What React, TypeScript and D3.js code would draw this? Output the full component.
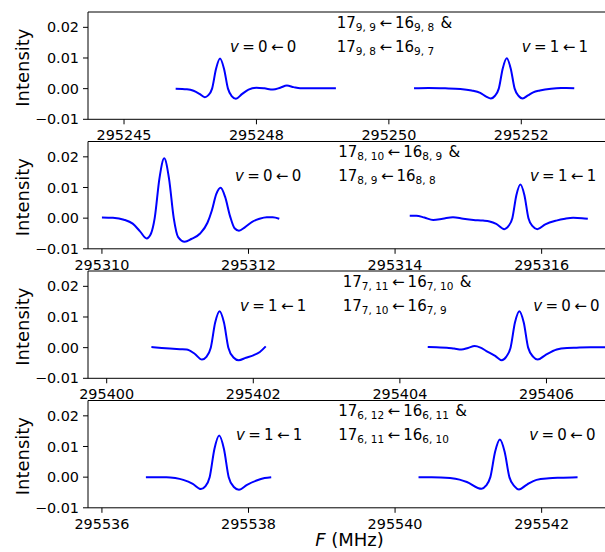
import React from "react";
import * as d3 from "d3";

type Pt = [number, number];

// ---------- data ----------
const yTicks = [-0.01, 0.0, 0.01, 0.02];
const yTickLabels = ["\u22120.01", "0.00", "0.01", "0.02"];

const p1Domain: [number, number] = [295245.456, 295253.37];
const p1Ticks = [295246, 295248, 295250, 295252];
const p1TickLabels = ["295245", "295248", "295250", "295252"];

const p2Domain: [number, number] = [295309.81, 295316.96];
const p2Ticks = [295310, 295312, 295314, 295316];
const p2TickLabels = ["295310", "295312", "295314", "295316"];

const p3Domain: [number, number] = [295399.745, 295406.894];
const p3Ticks = [295400, 295402, 295404, 295406];
const p3TickLabels = ["295400", "295402", "295404", "295406"];

const p4Domain: [number, number] = [295535.81, 295542.96];
const p4Ticks = [295536, 295538, 295540, 295542];
const p4TickLabels = ["295536", "295538", "295540", "295542"];

const p1SegA: Pt[] = [
  [295246.78, 0], [295246.95, -0.0002], [295247.05, -0.0007], [295247.14, -0.0017],
  [295247.22, -0.0028], [295247.27, -0.0022], [295247.33, 0], [295247.39, 0.0065],
  [295247.45, 0.0098], [295247.51, 0.0065], [295247.57, 0], [295247.63, -0.0025],
  [295247.69, -0.0033], [295247.78, -0.0018], [295247.88, -0.0003], [295248.0, 0.0003],
  [295248.12, 0.0001], [295248.25, -0.0003], [295248.36, 0.0003], [295248.46, 0.001],
  [295248.56, 0.0005], [295248.66, 0.0001], [295248.9, 0.0001], [295249.2, 0.0001],
];
const p1SegB: Pt[] = [
  [295250.38, 0.0001], [295250.6, 0.0002], [295250.85, 0.0001], [295251.08, -0.0001],
  [295251.25, -0.0006], [295251.38, -0.0014], [295251.47, -0.0026], [295251.54, -0.0032],
  [295251.6, -0.0024], [295251.66, 0], [295251.72, 0.0066], [295251.78, 0.0099],
  [295251.84, 0.0066], [295251.9, 0], [295251.96, -0.0024], [295252.02, -0.0032],
  [295252.1, -0.0022], [295252.18, -0.0012], [295252.28, -0.0006], [295252.45, 0],
  [295252.6, 0.0002], [295252.68, 0.0002], [295252.8, 0.0001],
];
const p2SegA: Pt[] = [
  [295310.0, 0.0002], [295310.15, 0.0001], [295310.3, -0.0005], [295310.42, -0.0018],
  [295310.52, -0.0043], [295310.61, -0.0066], [295310.67, -0.005], [295310.72, 0],
  [295310.785, 0.013], [295310.85, 0.0195], [295310.915, 0.013], [295310.98, 0],
  [295311.04, -0.0062], [295311.13, -0.0077], [295311.22, -0.0068], [295311.34, -0.005],
  [295311.44, -0.0015], [295311.5, 0.0025], [295311.56, 0.0078], [295311.62, 0.0099],
  [295311.68, 0.007], [295311.75, 0.0005], [295311.81, -0.0033], [295311.87, -0.0041],
  [295311.95, -0.003], [295312.05, -0.0012], [295312.15, -0.0002], [295312.25, 0.0003],
  [295312.33, 0.0003], [295312.42, -0.0002],
];
const p2SegB: Pt[] = [
  [295314.2, 0.0008], [295314.29, 0.0008], [295314.4, 0.0002], [295314.52, -0.0006],
  [295314.65, -0.0002], [295314.79, 0.0003], [295314.93, -0.0002], [295315.07, -0.0006],
  [295315.2, -0.0008], [295315.29, -0.0011], [295315.38, -0.0019], [295315.49, -0.0036],
  [295315.55, -0.0025], [295315.6, 0], [295315.655, 0.0075], [295315.71, 0.011],
  [295315.765, 0.0075], [295315.82, 0], [295315.88, -0.0027], [295315.94, -0.0036],
  [295316.05, -0.002], [295316.2, -0.0008], [295316.32, -0.0002], [295316.43, 0.0001],
  [295316.55, 0], [295316.63, -0.0002],
];
const p3SegA: Pt[] = [
  [295400.61, 0.0002], [295400.75, -0.0001], [295400.86, -0.0003], [295401.0, -0.0005],
  [295401.09, -0.0006], [295401.2, -0.002], [295401.3, -0.0039], [295401.36, -0.003],
  [295401.42, 0], [295401.48, 0.0082], [295401.54, 0.0119], [295401.6, 0.0082],
  [295401.66, 0], [295401.73, -0.0032], [295401.8, -0.0041], [295401.9, -0.0033],
  [295402.0, -0.0025], [295402.09, -0.0014], [295402.17, 0.0004],
];
const p3SegB: Pt[] = [
  [295404.38, 0.0002], [295404.5, 0.0001], [295404.64, 0], [295404.74, -0.0003],
  [295404.84, -0.0006], [295404.93, -0.0001], [295405.02, 0.0005], [295405.1, 0],
  [295405.18, -0.0011], [295405.3, -0.0027], [295405.39, -0.0041], [295405.45, -0.003],
  [295405.51, 0], [295405.57, 0.0082], [295405.63, 0.0119], [295405.69, 0.0082],
  [295405.75, 0], [295405.82, -0.003], [295405.88, -0.0039], [295405.98, -0.0025],
  [295406.14, -0.0006], [295406.28, -0.0001], [295406.41, 0], [295406.6, 0.0001],
  [295406.85, 0.0001],
];
const p4SegA: Pt[] = [
  [295536.6, 0], [295536.75, 0], [295536.88, 0], [295537.0, -0.0003],
  [295537.11, -0.0009], [295537.24, -0.0022], [295537.35, -0.0039], [295537.41, -0.003],
  [295537.47, 0], [295537.535, 0.0092], [295537.6, 0.0136], [295537.665, 0.0092],
  [295537.73, 0], [295537.8, -0.0032], [295537.87, -0.0041], [295537.98, -0.0025],
  [295538.11, -0.0011], [295538.22, -0.0003], [295538.31, 0],
];
const p4SegB: Pt[] = [
  [295540.32, 0], [295540.5, 0], [295540.75, -0.0003], [295540.88, -0.0008],
  [295540.98, -0.0016], [295541.18, -0.0038], [295541.24, -0.0028], [295541.3, 0],
  [295541.365, 0.0083], [295541.43, 0.0123], [295541.495, 0.0083], [295541.56, 0],
  [295541.63, -0.003], [295541.69, -0.004], [295541.8, -0.0024], [295541.93, -0.0009],
  [295542.1, -0.0004], [295542.25, -0.0002], [295542.49, 0],
];

// transition labels: [J upper, Ka/Kc upper, J lower, Ka/Kc lower]
const p1Trans = [["17", "9, 9", "16", "9, 8"], ["17", "9, 8", "16", "9, 7"]];
const p2Trans = [["17", "8, 10", "16", "8, 9"], ["17", "8, 9", "16", "8, 8"]];
const p3Trans = [["17", "7, 11", "16", "7, 10"], ["17", "7, 10", "16", "7, 9"]];
const p4Trans = [["17", "6, 12", "16", "6, 11"], ["17", "6, 11", "16", "6, 10"]];

// vibrational labels: [x position (MHz), upper v, lower v]
const p1Vib: [number, string, string][] = [[295247.601, "0", "0"], [295252.007, "1", "1"]];
const p2Vib: [number, string, string][] = [[295311.815, "0", "0"], [295315.84, "1", "1"]];
const p3Vib: [number, string, string][] = [[295401.819, "1", "1"], [295405.82, "0", "0"]];
const p4Vib: [number, string, string][] = [[295537.829, "1", "1"], [295541.83, "0", "0"]];
const transX = [295249.213, 295313.225, 295403.22, 295539.225];
const labelY1 = 0.0199;
const labelY2 = 0.0121;

// ---------- layout ----------
const W = 605;
const H = 552;
const AX_L = 88;
const AX_R = 612;
const AX_H = 107.3;
const tops = [12, 141.5, 271, 400.5];
const FONT = "DejaVu Sans";
const TICK_FS = 14.4;
const ANN_FS = 15;
const SUB_FS = 10.5;

const panels = [
  { domain: p1Domain, ticks: p1Ticks, labels: p1TickLabels, segs: [p1SegA, p1SegB], trans: p1Trans, vib: p1Vib, tx: transX[0] },
  { domain: p2Domain, ticks: p2Ticks, labels: p2TickLabels, segs: [p2SegA, p2SegB], trans: p2Trans, vib: p2Vib, tx: transX[1] },
  { domain: p3Domain, ticks: p3Ticks, labels: p3TickLabels, segs: [p3SegA, p3SegB], trans: p3Trans, vib: p3Vib, tx: transX[2] },
  { domain: p4Domain, ticks: p4Ticks, labels: p4TickLabels, segs: [p4SegA, p4SegB], trans: p4Trans, vib: p4Vib, tx: transX[3] },
];

function TransLabel({ x, y, t, amp }: { x: number; y: number; t: string[]; amp: boolean }) {
  return (
    <text x={x} y={y} fontFamily={FONT} fontSize={ANN_FS} fill="#000">
      <tspan>{t[0]}</tspan>
      <tspan fontSize={SUB_FS} dy={3.2}>{t[1]}</tspan>
      <tspan dy={-3.2} dx={3.5}>{"\u2190"}</tspan>
      <tspan dx={3}>{t[2]}</tspan>
      <tspan fontSize={SUB_FS} dy={3.2}>{t[3]}</tspan>
      {amp ? <tspan dy={-3.2} dx={1.5}>{" &"}</tspan> : null}
    </text>
  );
}

function VibLabel({ x, y, up, lo }: { x: number; y: number; up: string; lo: string }) {
  return (
    <text x={x} y={y} fontFamily={FONT} fontSize={ANN_FS} fill="#000">
      <tspan fontStyle="italic">v</tspan>
      <tspan dx={3.3}>=</tspan>
      <tspan dx={3.3}>{up}</tspan>
      <tspan dx={3.3}>{"\u2190"}</tspan>
      <tspan dx={3.3}>{lo}</tspan>
    </text>
  );
}

function Panel({ idx }: { idx: number }) {
  const p = panels[idx];
  const top = tops[idx];
  const bottom = top + AX_H;
  const x = d3.scaleLinear().domain(p.domain).range([AX_L, AX_R]);
  const y = d3.scaleLinear().domain([-0.01, 0.025]).range([bottom, top]);
  const line = d3
    .line<Pt>()
    .x((d) => x(d[0]))
    .y((d) => y(d[1]))
    .curve(d3.curveMonotoneX);
  const clipId = `clip${idx}`;
  return (
    <g>
      <defs>
        <clipPath id={clipId}>
          <rect x={AX_L} y={top} width={AX_R - AX_L} height={AX_H} />
        </clipPath>
      </defs>
      <g clipPath={`url(#${clipId})`}>
        {p.segs.map((s, i) => (
          <path key={i} d={line(s) || ""} fill="none" stroke="#0000ff" strokeWidth={2} strokeLinejoin="round" />
        ))}
      </g>
      {/* spines */}
      <line x1={AX_L} x2={AX_R} y1={top} y2={top} stroke="#000" strokeWidth={1} />
      <line x1={AX_L} x2={AX_R} y1={bottom} y2={bottom} stroke="#000" strokeWidth={1} />
      <line x1={AX_L} x2={AX_L} y1={top} y2={bottom} stroke="#000" strokeWidth={1} />
      {/* y ticks */}
      {yTicks.map((t, i) => (
        <g key={i}>
          <line x1={AX_L - 5} x2={AX_L} y1={y(t)} y2={y(t)} stroke="#000" strokeWidth={1} />
          <text x={AX_L - 9} y={y(t)} dy="0.35em" textAnchor="end" fontFamily={FONT} fontSize={TICK_FS} fill="#000">
            {yTickLabels[i]}
          </text>
        </g>
      ))}
      {/* x ticks */}
      {p.ticks.map((t, i) => (
        <g key={i}>
          <line x1={x(t)} x2={x(t)} y1={bottom} y2={bottom + 5} stroke="#000" strokeWidth={1} />
          <text x={x(t)} y={bottom + 20.7} textAnchor="middle" fontFamily={FONT} fontSize={TICK_FS} fill="#000">
            {p.labels[i]}
          </text>
        </g>
      ))}
      {/* y label */}
      <text
        transform={`translate(${28.5},${(top + bottom) / 2 + 2}) rotate(-90)`}
        textAnchor="middle"
        fontFamily={FONT}
        fontSize={18}
        fill="#000"
      >
        Intensity
      </text>
      {/* annotations */}
      <TransLabel x={x(p.tx)} y={y(labelY1)} t={p.trans[0]} amp={true} />
      <TransLabel x={x(p.tx)} y={y(labelY2)} t={p.trans[1]} amp={false} />
      {p.vib.map(([vx, up, lo], i) => (
        <VibLabel key={i} x={x(vx)} y={y(labelY2)} up={up} lo={lo} />
      ))}
    </g>
  );
}

export default function App() {
  return (
    <svg
      width={W}
      height={H}
      viewBox={`0 0 ${W} ${H}`}
      style={{ position: "absolute", left: 0, top: 0, background: "#fff" }}
    >
      <rect x={0} y={0} width={W} height={H} fill="#fff" />
      {panels.map((_, i) => (
        <Panel key={i} idx={i} />
      ))}
      <text x={(AX_L + AX_R) / 2 - 0.5} y={546} textAnchor="middle" fontFamily={FONT} fontSize={18} fill="#000">
        <tspan fontStyle="italic">F</tspan>
        <tspan>{" (MHz)"}</tspan>
      </text>
    </svg>
  );
}
